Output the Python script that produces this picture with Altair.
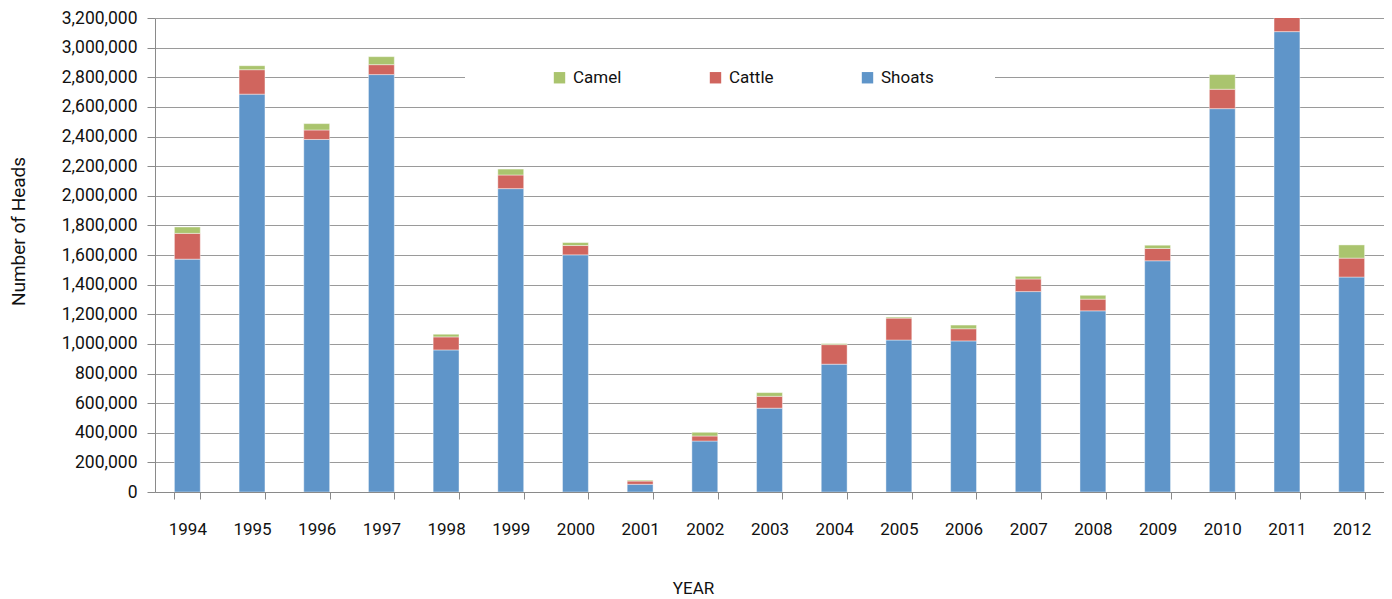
import altair as alt
import pandas as pd

years = ["1994", "1995", "1996", "1997", "1998", "1999", "2000", "2001", "2002", "2003",
         "2004", "2005", "2006", "2007", "2008", "2009", "2010", "2011", "2012"]
shoats = [1572000, 2686000, 2380000, 2818000, 959000, 2048000, 1601000, 52000, 344000, 566000,
          863000, 1026000, 1020000, 1353000, 1223000, 1561000, 2588000, 3108000, 1451000]
cattle = [174000, 165000, 64000, 67000, 88000, 92000, 63000, 22000, 34000, 80000,
          132000, 148000, 82000, 85000, 79000, 83000, 131000, 120000, 128000]
camel = [43000, 27000, 43000, 54000, 18000, 40000, 20000, 6000, 25000, 25000,
         7000, 7000, 25000, 18000, 26000, 22000, 99000, 50000, 89000]

species = ["Camel", "Cattle", "Shoats"]
colors = ["#AAC46E", "#D0655E", "#5F95C9"]
y_ticks = list(range(0, 3200001, 200000))

rows = []
for i, yr in enumerate(years):
    rows.append({"year": yr, "species": "Shoats", "heads": shoats[i], "rank": 0})
    rows.append({"year": yr, "species": "Cattle", "heads": cattle[i], "rank": 1})
    rows.append({"year": yr, "species": "Camel", "heads": camel[i], "rank": 2})
df = pd.DataFrame(rows)

FONT = "Roboto"

y_scale = alt.Scale(domain=[0, 3200000], nice=False)
y_axis = alt.Axis(title="Number of Heads", values=y_ticks, format=",.0f",
                  labelOverlap=False, labelFlush=False,
                  labelFontSize=17.5, labelFont=FONT, labelColor="#111111",
                  tickSize=8, tickColor="#8a8a8a", domainColor="#8a8a8a",
                  labelPadding=10, gridColor="#9a9a9a", gridWidth=1,
                  titleFont=FONT, titleFontSize=19, titleFontWeight="normal",
                  titleColor="#111111", titleX=-131, titleY=213,
                  titleBaseline="alphabetic", titleAngle=-90, titleAlign="center")

bars = alt.Chart(df).mark_bar(clip=True, stroke="white", strokeWidth=0.6, strokeOpacity=0.7).encode(
    x=alt.X("year:N", sort=years,
            scale=alt.Scale(paddingInner=0.6, paddingOuter=0.3),
            axis=alt.Axis(title="YEAR", labelAngle=0, labelFontSize=17, labelFont=FONT,
                          labelColor="#111111", tickBand="extent", tickSize=7,
                          tickColor="#8a8a8a", domainColor="#8a8a8a", labelPadding=22,
                          grid=False, titleFont=FONT, titleFontSize=17,
                          titleFontWeight="normal", titleColor="#111111",
                          titleX=538, titleY=101, titleBaseline="alphabetic",
                          titleAlign="center")),
    y=alt.Y("heads:Q", stack="zero", scale=y_scale, axis=y_axis),
    color=alt.Color("species:N",
                    scale=alt.Scale(domain=species, range=colors),
                    legend=alt.Legend(title=None, orient="none", legendX=396, legendY=51,
                                      direction="horizontal", symbolType="square",
                                      symbolSize=130, symbolStrokeWidth=0,
                                      labelFont=FONT, labelFontSize=17,
                                      labelColor="#111111", labelOffset=5,
                                      columnPadding=85, padding=0)),
    order=alt.Order("rank:Q", sort="ascending"),
)

gap_df = pd.DataFrame({"level": [2800000]})
gap = alt.Chart(gap_df).mark_rule(color="white", strokeWidth=3).encode(
    y=alt.Y("level:Q", scale=y_scale, axis=y_axis),
    x=alt.value(310),
    x2=alt.value(840),
)

chart = alt.layer(bars, gap).properties(
    width=1229,
    height=474,
    autosize=alt.AutoSizeParams(type="none"),
    padding={"left": 147, "top": 10, "right": 0, "bottom": 107},
    background="white",
).configure_view(stroke=None)

chart.save("out.html", embed_options={"renderer": "svg", "actions": False})
